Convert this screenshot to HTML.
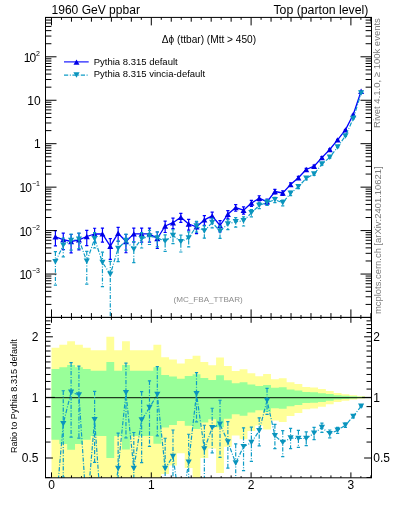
<!DOCTYPE html>
<html><head><meta charset="utf-8"><style>
html,body{margin:0;padding:0;background:#fff;width:393px;height:512px;overflow:hidden}
.t{position:absolute;-webkit-font-smoothing:antialiased;transform:translateZ(0);font-family:"Liberation Sans",sans-serif;white-space:nowrap;line-height:1;color:#000}
svg{position:absolute;left:0;top:0;will-change:transform}
</style></head><body>
<svg width="393" height="512" viewBox="0 0 393 512">
<path d="M51.50,347.67L59.34,347.67L59.34,344.72L67.18,344.72L67.18,341.25L75.01,341.25L75.01,344.72L82.85,344.72L82.85,347.67L90.69,347.67L90.69,350.37L98.53,350.37L98.53,350.37L106.37,350.37L106.37,336.79L114.21,336.79L114.21,350.37L122.04,350.37L122.04,341.36L129.88,341.36L129.88,350.37L137.72,350.37L137.72,350.37L145.56,350.37L145.56,350.37L153.40,350.37L153.40,344.87L161.24,344.87L161.24,357.22L169.07,357.22L169.07,359.56L176.91,359.56L176.91,363.55L184.75,363.55L184.75,358.89L192.59,358.89L192.59,355.84L200.43,355.84L200.43,361.97L208.27,361.97L208.27,365.35L216.10,365.35L216.10,357.49L223.94,357.49L223.94,366.04L231.78,366.04L231.78,370.99L239.62,370.99L239.62,369.19L247.46,369.19L247.46,373.22L255.30,373.22L255.30,376.14L263.13,376.14L263.13,373.95L270.97,373.95L270.97,379.13L278.81,379.13L278.81,378.18L286.65,378.18L286.65,382.14L294.49,382.14L294.49,384.10L302.32,384.10L302.32,387.06L310.16,387.06L310.16,387.59L318.00,387.59L318.00,389.05L325.84,389.05L325.84,390.96L333.68,390.96L333.68,393.12L341.52,393.12L341.52,394.26L349.35,394.26L349.35,395.36L357.19,395.36L357.19,396.30L365.03,396.30L365.03,398.51L357.19,398.51L357.19,399.49L349.35,399.49L349.35,400.65L341.52,400.65L341.52,401.90L333.68,401.90L333.68,404.35L325.84,404.35L325.84,406.63L318.00,406.63L318.00,408.46L310.16,408.46L310.16,409.13L302.32,409.13L302.32,413.09L294.49,413.09L294.49,415.89L286.65,415.89L286.65,422.07L278.81,422.07L278.81,420.53L270.97,420.53L270.97,429.55L263.13,429.55L263.13,425.56L255.30,425.56L255.30,430.94L247.46,430.94L247.46,439.30L239.62,439.30L239.62,435.41L231.78,435.41L231.78,446.78L223.94,446.78L223.94,472.95L216.10,472.95L216.10,448.54L208.27,448.54L208.27,457.96L200.43,457.96L200.43,477.80L192.59,477.80L192.59,467.88L184.75,467.88L184.75,453.37L176.91,453.37L176.91,465.60L169.07,465.60L169.07,473.95L161.24,473.95L161.24,477.80L153.40,477.80L153.40,477.80L145.56,477.80L145.56,477.80L137.72,477.80L137.72,477.80L129.88,477.80L129.88,477.80L122.04,477.80L122.04,477.80L114.21,477.80L114.21,477.80L106.37,477.80L106.37,477.80L98.53,477.80L98.53,477.80L90.69,477.80L90.69,477.80L82.85,477.80L82.85,477.80L75.01,477.80L75.01,477.80L67.18,477.80L67.18,477.80L59.34,477.80L59.34,477.80L51.50,477.80Z" fill="#ffff99"/>
<path d="M51.50,369.05L59.34,369.05L59.34,367.15L67.18,367.15L67.18,364.90L75.01,364.90L75.01,367.15L82.85,367.15L82.85,369.05L90.69,369.05L90.69,370.76L98.53,370.76L98.53,370.76L106.37,370.76L106.37,361.94L114.21,361.94L114.21,370.76L122.04,370.76L122.04,364.96L129.88,364.96L129.88,370.76L137.72,370.76L137.72,370.76L145.56,370.76L145.56,370.76L153.40,370.76L153.40,367.25L161.24,367.25L161.24,375.02L169.07,375.02L169.07,376.45L176.91,376.45L176.91,378.85L184.75,378.85L184.75,376.04L192.59,376.04L192.59,374.17L200.43,374.17L200.43,377.90L208.27,377.90L208.27,379.91L216.10,379.91L216.10,375.19L223.94,375.19L223.94,380.32L231.78,380.32L231.78,383.20L239.62,383.20L239.62,382.16L247.46,382.16L247.46,384.48L255.30,384.48L255.30,386.12L263.13,386.12L263.13,384.89L270.97,384.89L270.97,387.79L278.81,387.79L278.81,387.26L286.65,387.26L286.65,389.44L294.49,389.44L294.49,390.50L302.32,390.50L302.32,392.08L310.16,392.08L310.16,392.35L318.00,392.35L318.00,393.13L325.84,393.13L325.84,394.12L333.68,394.12L333.68,395.24L341.52,395.24L341.52,395.82L349.35,395.82L349.35,396.37L357.19,396.37L357.19,396.85L365.03,396.85L365.03,397.95L357.19,397.95L357.19,398.44L349.35,398.44L349.35,399.01L341.52,399.01L341.52,399.62L333.68,399.62L333.68,400.81L325.84,400.81L325.84,401.89L318.00,401.89L318.00,402.75L310.16,402.75L310.16,403.07L302.32,403.07L302.32,404.89L294.49,404.89L294.49,406.16L286.65,406.16L286.65,408.87L278.81,408.87L278.81,408.20L270.97,408.20L270.97,412.01L263.13,412.01L263.13,410.35L255.30,410.35L255.30,412.57L247.46,412.57L247.46,415.87L239.62,415.87L239.62,414.36L231.78,414.36L231.78,418.65L223.94,418.65L223.94,427.26L216.10,427.26L216.10,419.28L208.27,419.28L208.27,422.54L200.43,422.54L200.43,429.12L192.59,429.12L192.59,425.72L184.75,425.72L184.75,420.98L176.91,420.98L176.91,425.01L169.07,425.01L169.07,427.55L161.24,427.55L161.24,443.80L153.40,443.80L153.40,435.90L145.56,435.90L145.56,435.90L137.72,435.90L137.72,435.90L129.88,435.90L129.88,449.54L122.04,449.54L122.04,435.90L114.21,435.90L114.21,458.03L106.37,458.03L106.37,435.90L98.53,435.90L98.53,435.90L90.69,435.90L90.69,439.63L82.85,439.63L82.85,444.04L75.01,444.04L75.01,449.72L67.18,449.72L67.18,444.04L59.34,444.04L59.34,439.63L51.50,439.63Z" fill="#99ff99"/>
<line x1="45.5" y1="397.6" x2="371.5" y2="397.6" stroke="#142814" stroke-opacity="0.9" stroke-width="1.3"/>
<defs><clipPath id="cm"><rect x="45.5" y="17.4" width="326" height="300"/></clipPath><clipPath id="cr"><rect x="45.5" y="317.4" width="326" height="160.4"/></clipPath></defs>
<g clip-path="url(#cm)">
<polyline points="55.42,236.80 63.26,239.60 71.10,241.50 78.93,239.80 86.77,236.50 94.61,234.00 102.45,233.90 110.29,246.20 118.13,233.20 125.96,241.50 133.80,233.90 141.64,233.90 149.48,233.90 157.32,238.50 165.15,226.00 172.99,222.70 180.83,217.30 188.67,224.00 196.51,226.80 204.35,219.90 212.18,215.90 220.02,225.50 227.86,214.30 235.70,207.60 243.54,210.20 251.38,203.10 259.21,198.20 267.05,201.80 274.89,191.50 282.73,193.00 290.57,184.60 298.41,177.80 306.24,169.50 314.08,166.20 321.92,157.60 329.76,149.50 337.60,139.90 345.44,129.90 353.27,114.50 361.11,91.20" fill="none" stroke="#0000ff" stroke-width="1.3" stroke-linejoin="round"/>
<path d="M55.42,230.68V245.92M53.82,230.68H57.02M53.82,245.92H57.02M63.26,233.07V249.67M61.66,233.07H64.86M61.66,249.67H64.86M71.10,234.48V252.79M69.50,234.48H72.70M69.50,252.79H72.70M78.93,233.27V249.87M77.33,233.27H80.53M77.33,249.87H80.53M86.77,230.38V245.62M85.17,230.38H88.37M85.17,245.62H88.37M94.61,228.25V242.31M93.01,228.25H96.21M93.01,242.31H96.21M102.45,228.15V242.21M100.85,228.15H104.05M100.85,242.21H104.05M110.29,238.55V259.29M108.69,238.55H111.89M108.69,259.29H111.89M118.13,227.45V241.51M116.53,227.45H119.73M116.53,241.51H119.73M125.96,234.50V252.76M124.36,234.50H127.56M124.36,252.76H127.56M133.80,228.15V242.21M132.20,228.15H135.40M132.20,242.21H135.40M141.64,228.15V242.21M140.04,228.15H143.24M140.04,242.21H143.24M149.48,228.15V242.21M147.88,228.15H151.08M147.88,242.21H151.08M157.32,231.99V248.52M155.72,231.99H158.92M155.72,248.52H158.92M165.15,221.17V232.51M163.55,221.17H166.75M163.55,232.51H166.75M172.99,218.18V228.66M171.39,218.18H174.59M171.39,228.66H174.59M180.83,213.30V222.39M179.23,213.30H182.43M179.23,222.39H182.43M188.67,219.39V230.11M187.07,219.39H190.27M187.07,230.11H190.27M196.51,221.79V233.65M194.91,221.79H198.11M194.91,233.65H198.11M204.35,215.69V225.33M202.75,215.69H205.95M202.75,225.33H205.95M212.18,212.13V220.62M210.58,212.13H213.78M210.58,220.62H213.78M220.02,220.71V231.94M218.42,220.71H221.62M218.42,231.94H221.62M227.86,210.61V218.89M226.26,210.61H229.46M226.26,218.89H229.46M235.70,204.54V211.26M234.10,204.54H237.30M234.10,211.26H237.30M243.54,206.91V214.19M241.94,206.91H245.14M241.94,214.19H245.14M251.38,200.31V206.37M249.78,200.31H252.98M249.78,206.37H252.98M259.21,195.77V201.00M257.61,195.77H260.81M257.61,201.00H260.81M267.05,199.10V204.95M265.45,199.10H268.65M265.45,204.95H268.65M274.89,189.42V193.83M273.29,189.42H276.49M273.29,193.83H276.49M282.73,190.81V195.47M281.13,190.81H284.33M281.13,195.47H284.33M290.57,182.88V186.49M288.97,182.88H292.17M288.97,186.49H292.17M298.41,176.31V179.42M296.81,176.31H300.01M296.81,179.42H300.01M306.24,168.35V170.72M304.64,168.35H307.84M304.64,170.72H307.84M314.08,165.11V167.36M312.48,165.11H315.68M312.48,167.36H315.68M321.92,156.68V158.57M320.32,156.68H323.52M320.32,158.57H323.52M329.76,148.79V150.24M328.16,148.79H331.36M328.16,150.24H331.36M337.60,139.43V140.38M336.00,139.43H339.20M336.00,140.38H339.20M345.44,129.56V130.25M343.84,129.56H347.04M343.84,130.25H347.04M353.27,114.28V114.72M351.67,114.28H354.87M351.67,114.72H354.87M361.11,91.08V91.32M359.51,91.08H362.71M359.51,91.32H362.71" stroke="#0000ff" stroke-width="1.2" fill="none"/>
<path d="M52.42,239.50L58.42,239.50L55.42,234.10Z" fill="#0000e6"/>
<path d="M60.26,242.30L66.26,242.30L63.26,236.90Z" fill="#0000e6"/>
<path d="M68.10,244.20L74.10,244.20L71.10,238.80Z" fill="#0000e6"/>
<path d="M75.93,242.50L81.93,242.50L78.93,237.10Z" fill="#0000e6"/>
<path d="M83.77,239.20L89.77,239.20L86.77,233.80Z" fill="#0000e6"/>
<path d="M91.61,236.70L97.61,236.70L94.61,231.30Z" fill="#0000e6"/>
<path d="M99.45,236.60L105.45,236.60L102.45,231.20Z" fill="#0000e6"/>
<path d="M107.29,248.90L113.29,248.90L110.29,243.50Z" fill="#0000e6"/>
<path d="M115.13,235.90L121.13,235.90L118.13,230.50Z" fill="#0000e6"/>
<path d="M122.96,244.20L128.96,244.20L125.96,238.80Z" fill="#0000e6"/>
<path d="M130.80,236.60L136.80,236.60L133.80,231.20Z" fill="#0000e6"/>
<path d="M138.64,236.60L144.64,236.60L141.64,231.20Z" fill="#0000e6"/>
<path d="M146.48,236.60L152.48,236.60L149.48,231.20Z" fill="#0000e6"/>
<path d="M154.32,241.20L160.32,241.20L157.32,235.80Z" fill="#0000e6"/>
<path d="M162.15,228.70L168.15,228.70L165.15,223.30Z" fill="#0000e6"/>
<path d="M169.99,225.40L175.99,225.40L172.99,220.00Z" fill="#0000e6"/>
<path d="M177.83,220.00L183.83,220.00L180.83,214.60Z" fill="#0000e6"/>
<path d="M185.67,226.70L191.67,226.70L188.67,221.30Z" fill="#0000e6"/>
<path d="M193.51,229.50L199.51,229.50L196.51,224.10Z" fill="#0000e6"/>
<path d="M201.35,222.60L207.35,222.60L204.35,217.20Z" fill="#0000e6"/>
<path d="M209.18,218.60L215.18,218.60L212.18,213.20Z" fill="#0000e6"/>
<path d="M217.02,228.20L223.02,228.20L220.02,222.80Z" fill="#0000e6"/>
<path d="M224.86,217.00L230.86,217.00L227.86,211.60Z" fill="#0000e6"/>
<path d="M232.70,210.30L238.70,210.30L235.70,204.90Z" fill="#0000e6"/>
<path d="M240.54,212.90L246.54,212.90L243.54,207.50Z" fill="#0000e6"/>
<path d="M248.38,205.80L254.38,205.80L251.38,200.40Z" fill="#0000e6"/>
<path d="M256.21,200.90L262.21,200.90L259.21,195.50Z" fill="#0000e6"/>
<path d="M264.05,204.50L270.05,204.50L267.05,199.10Z" fill="#0000e6"/>
<path d="M271.89,194.20L277.89,194.20L274.89,188.80Z" fill="#0000e6"/>
<path d="M279.73,195.70L285.73,195.70L282.73,190.30Z" fill="#0000e6"/>
<path d="M287.57,187.30L293.57,187.30L290.57,181.90Z" fill="#0000e6"/>
<path d="M295.41,180.50L301.41,180.50L298.41,175.10Z" fill="#0000e6"/>
<path d="M303.24,172.20L309.24,172.20L306.24,166.80Z" fill="#0000e6"/>
<path d="M311.08,168.90L317.08,168.90L314.08,163.50Z" fill="#0000e6"/>
<path d="M318.92,160.30L324.92,160.30L321.92,154.90Z" fill="#0000e6"/>
<path d="M326.76,152.20L332.76,152.20L329.76,146.80Z" fill="#0000e6"/>
<path d="M334.60,142.60L340.60,142.60L337.60,137.20Z" fill="#0000e6"/>
<path d="M342.44,132.60L348.44,132.60L345.44,127.20Z" fill="#0000e6"/>
<path d="M350.27,117.20L356.27,117.20L353.27,111.80Z" fill="#0000e6"/>
<path d="M358.11,93.90L364.11,93.90L361.11,88.50Z" fill="#0000e6"/>
<polyline points="55.42,261.79 63.26,245.27 71.10,240.39 78.93,239.26 86.77,261.35 94.61,238.83 102.45,262.47 110.29,274.26 118.13,248.53 125.96,240.49 133.80,249.23 141.64,238.80 149.48,236.10 157.32,237.89 165.15,241.33 172.99,235.44 180.83,241.80 188.67,237.99 196.51,226.02 204.35,231.06 212.18,222.45 220.02,231.30 227.86,223.91 235.70,221.78 243.54,220.83 251.38,212.86 259.21,205.39 267.05,202.45 274.89,199.76 282.73,202.76 290.57,193.36 298.41,186.67 306.24,178.37 314.08,173.94 321.92,164.12 329.76,157.36 337.60,147.01 345.44,135.90 353.27,118.60 361.11,93.11" fill="none" stroke="#0e9cc6" stroke-width="1.2" stroke-dasharray="4.2 1.6 1 1.6"/>
<path d="M55.42,251.68V285.04M63.26,238.16V256.80M71.10,234.01V250.08M78.93,233.04V248.58M86.77,251.33V284.08M94.61,232.68V248.02M102.45,252.22V286.58M110.29,261.32V354.65M118.13,240.89V261.55M125.96,234.10V250.22M133.80,241.48V262.60M141.64,232.65V247.99M149.48,230.32V244.49M157.32,231.86V246.78M165.15,234.82V251.34M172.99,229.74V243.64M180.83,235.22V251.98M188.67,231.95V246.92M196.51,221.44V232.08M204.35,225.91V238.16M212.18,218.24V227.87M220.02,226.12V238.46M227.86,219.55V229.58M235.70,217.64V227.10M243.54,216.78V225.99M251.38,209.52V216.92M259.21,202.61V208.66M267.05,199.87V205.46M274.89,197.34V202.54M282.73,200.15V205.79M290.57,191.29V195.67M298.41,184.93V188.60M306.24,176.96V179.90M314.08,172.68V175.30M321.92,163.14V165.15M329.76,156.54V158.22M337.60,146.38V147.66M345.44,135.43V136.38M353.27,118.30V118.90M361.11,92.96V93.27" stroke="#0e9cc6" stroke-width="1.2" fill="none" stroke-dasharray="4.2 1.6 1 1.6"/>
<path d="M53.82,251.68H57.02M53.82,285.04H57.02M61.66,238.16H64.86M61.66,256.80H64.86M69.50,234.01H72.70M69.50,250.08H72.70M77.33,233.04H80.53M77.33,248.58H80.53M85.17,251.33H88.37M85.17,284.08H88.37M93.01,232.68H96.21M93.01,248.02H96.21M100.85,252.22H104.05M100.85,286.58H104.05M108.69,261.32H111.89M108.69,354.65H111.89M116.53,240.89H119.73M116.53,261.55H119.73M124.36,234.10H127.56M124.36,250.22H127.56M132.20,241.48H135.40M132.20,262.60H135.40M140.04,232.65H143.24M140.04,247.99H143.24M147.88,230.32H151.08M147.88,244.49H151.08M155.72,231.86H158.92M155.72,246.78H158.92M163.55,234.82H166.75M163.55,251.34H166.75M171.39,229.74H174.59M171.39,243.64H174.59M179.23,235.22H182.43M179.23,251.98H182.43M187.07,231.95H190.27M187.07,246.92H190.27M194.91,221.44H198.11M194.91,232.08H198.11M202.75,225.91H205.95M202.75,238.16H205.95M210.58,218.24H213.78M210.58,227.87H213.78M218.42,226.12H221.62M218.42,238.46H221.62M226.26,219.55H229.46M226.26,229.58H229.46M234.10,217.64H237.30M234.10,227.10H237.30M241.94,216.78H245.14M241.94,225.99H245.14M249.78,209.52H252.98M249.78,216.92H252.98M257.61,202.61H260.81M257.61,208.66H260.81M265.45,199.87H268.65M265.45,205.46H268.65M273.29,197.34H276.49M273.29,202.54H276.49M281.13,200.15H284.33M281.13,205.79H284.33M288.97,191.29H292.17M288.97,195.67H292.17M296.81,184.93H300.01M296.81,188.60H300.01M304.64,176.96H307.84M304.64,179.90H307.84M312.48,172.68H315.68M312.48,175.30H315.68M320.32,163.14H323.52M320.32,165.15H323.52M328.16,156.54H331.36M328.16,158.22H331.36M336.00,146.38H339.20M336.00,147.66H339.20M343.84,135.43H347.04M343.84,136.38H347.04M351.67,118.30H354.87M351.67,118.90H354.87M359.51,92.96H362.71M359.51,93.27H362.71" stroke="#0e9cc6" stroke-width="1.2" fill="none"/>
<path d="M52.32,259.04L58.52,259.04L55.42,264.54Z" fill="#0a94bd"/>
<path d="M60.16,242.52L66.36,242.52L63.26,248.02Z" fill="#0a94bd"/>
<path d="M68.00,237.64L74.20,237.64L71.10,243.14Z" fill="#0a94bd"/>
<path d="M75.83,236.51L82.03,236.51L78.93,242.01Z" fill="#0a94bd"/>
<path d="M83.67,258.60L89.87,258.60L86.77,264.10Z" fill="#0a94bd"/>
<path d="M91.51,236.08L97.71,236.08L94.61,241.58Z" fill="#0a94bd"/>
<path d="M99.35,259.72L105.55,259.72L102.45,265.22Z" fill="#0a94bd"/>
<path d="M107.19,271.51L113.39,271.51L110.29,277.01Z" fill="#0a94bd"/>
<path d="M115.03,245.78L121.23,245.78L118.13,251.28Z" fill="#0a94bd"/>
<path d="M122.86,237.74L129.06,237.74L125.96,243.24Z" fill="#0a94bd"/>
<path d="M130.70,246.48L136.90,246.48L133.80,251.98Z" fill="#0a94bd"/>
<path d="M138.54,236.05L144.74,236.05L141.64,241.55Z" fill="#0a94bd"/>
<path d="M146.38,233.35L152.58,233.35L149.48,238.85Z" fill="#0a94bd"/>
<path d="M154.22,235.14L160.42,235.14L157.32,240.64Z" fill="#0a94bd"/>
<path d="M162.05,238.58L168.25,238.58L165.15,244.08Z" fill="#0a94bd"/>
<path d="M169.89,232.69L176.09,232.69L172.99,238.19Z" fill="#0a94bd"/>
<path d="M177.73,239.05L183.93,239.05L180.83,244.55Z" fill="#0a94bd"/>
<path d="M185.57,235.24L191.77,235.24L188.67,240.74Z" fill="#0a94bd"/>
<path d="M193.41,223.27L199.61,223.27L196.51,228.77Z" fill="#0a94bd"/>
<path d="M201.25,228.31L207.45,228.31L204.35,233.81Z" fill="#0a94bd"/>
<path d="M209.08,219.70L215.28,219.70L212.18,225.20Z" fill="#0a94bd"/>
<path d="M216.92,228.55L223.12,228.55L220.02,234.05Z" fill="#0a94bd"/>
<path d="M224.76,221.16L230.96,221.16L227.86,226.66Z" fill="#0a94bd"/>
<path d="M232.60,219.03L238.80,219.03L235.70,224.53Z" fill="#0a94bd"/>
<path d="M240.44,218.08L246.64,218.08L243.54,223.58Z" fill="#0a94bd"/>
<path d="M248.28,210.11L254.48,210.11L251.38,215.61Z" fill="#0a94bd"/>
<path d="M256.11,202.64L262.31,202.64L259.21,208.14Z" fill="#0a94bd"/>
<path d="M263.95,199.70L270.15,199.70L267.05,205.20Z" fill="#0a94bd"/>
<path d="M271.79,197.01L277.99,197.01L274.89,202.51Z" fill="#0a94bd"/>
<path d="M279.63,200.01L285.83,200.01L282.73,205.51Z" fill="#0a94bd"/>
<path d="M287.47,190.61L293.67,190.61L290.57,196.11Z" fill="#0a94bd"/>
<path d="M295.31,183.92L301.51,183.92L298.41,189.42Z" fill="#0a94bd"/>
<path d="M303.14,175.62L309.34,175.62L306.24,181.12Z" fill="#0a94bd"/>
<path d="M310.98,171.19L317.18,171.19L314.08,176.69Z" fill="#0a94bd"/>
<path d="M318.82,161.37L325.02,161.37L321.92,166.87Z" fill="#0a94bd"/>
<path d="M326.66,154.61L332.86,154.61L329.76,160.11Z" fill="#0a94bd"/>
<path d="M334.50,144.26L340.70,144.26L337.60,149.76Z" fill="#0a94bd"/>
<path d="M342.34,133.15L348.54,133.15L345.44,138.65Z" fill="#0a94bd"/>
<path d="M350.17,115.85L356.37,115.85L353.27,121.35Z" fill="#0a94bd"/>
<path d="M358.01,90.36L364.21,90.36L361.11,95.86Z" fill="#0a94bd"/>
</g>
<g clip-path="url(#cr)">
<polyline points="55.42,513.17 63.26,423.67 71.10,392.24 78.93,394.89 86.77,512.52 94.61,419.79 102.45,529.77 110.29,527.42 118.13,468.40 125.96,392.73 133.80,468.40 141.64,420.12 149.48,407.61 157.32,394.55 165.15,468.40 172.99,456.41 180.83,510.90 188.67,462.20 196.51,393.80 204.35,449.09 212.18,427.73 220.02,424.25 227.86,441.90 235.70,463.11 243.54,446.63 251.38,442.62 259.21,430.71 267.05,400.43 274.89,435.66 282.73,442.62 290.57,437.96 298.41,438.52 306.24,438.52 314.08,433.28 321.92,427.61 329.76,433.80 337.60,430.33 345.44,425.20 353.27,416.39 361.11,406.26" fill="none" stroke="#0e9cc6" stroke-width="1.2" stroke-dasharray="4.2 1.6 1 1.6"/>
<path d="M63.26,390.75V477.09M71.10,362.71V437.16M78.93,366.10V438.09M94.61,391.28V462.36M118.13,433.04V528.73M125.96,363.13V437.81M133.80,432.50V530.38M141.64,391.63V462.66M149.48,380.81V446.45M157.32,366.65V435.78M165.15,438.25V514.81M172.99,430.02V494.40M188.67,434.23V503.58M196.51,372.59V421.87M204.35,425.23V482.01M212.18,408.24V452.85M220.02,400.26V457.43M227.86,421.72V468.18M235.70,443.93V487.73M243.54,427.87V470.53M251.38,427.14V461.45M259.21,417.82V445.85M267.05,388.44V414.34M274.89,424.44V448.53M282.73,430.54V456.65M290.57,428.40V448.70M298.41,430.44V447.42M306.24,431.97V445.59M314.08,427.44V439.54M321.92,423.07V432.39M329.76,430.00V437.78M337.60,427.42V433.34M345.44,423.02V427.43M353.27,415.01V417.80M361.11,405.56V406.97" stroke="#0e9cc6" stroke-width="1.2" fill="none" stroke-dasharray="4.2 1.6 1 1.6"/>
<path d="M61.66,390.75H64.86M61.66,477.09H64.86M69.50,362.71H72.70M69.50,437.16H72.70M77.33,366.10H80.53M77.33,438.09H80.53M93.01,391.28H96.21M93.01,462.36H96.21M116.53,433.04H119.73M116.53,528.73H119.73M124.36,363.13H127.56M124.36,437.81H127.56M132.20,432.50H135.40M132.20,530.38H135.40M140.04,391.63H143.24M140.04,462.66H143.24M147.88,380.81H151.08M147.88,446.45H151.08M155.72,366.65H158.92M155.72,435.78H158.92M163.55,438.25H166.75M163.55,514.81H166.75M171.39,430.02H174.59M171.39,494.40H174.59M187.07,434.23H190.27M187.07,503.58H190.27M194.91,372.59H198.11M194.91,421.87H198.11M202.75,425.23H205.95M202.75,482.01H205.95M210.58,408.24H213.78M210.58,452.85H213.78M218.42,400.26H221.62M218.42,457.43H221.62M226.26,421.72H229.46M226.26,468.18H229.46M234.10,443.93H237.30M234.10,487.73H237.30M241.94,427.87H245.14M241.94,470.53H245.14M249.78,427.14H252.98M249.78,461.45H252.98M257.61,417.82H260.81M257.61,445.85H260.81M265.45,388.44H268.65M265.45,414.34H268.65M273.29,424.44H276.49M273.29,448.53H276.49M281.13,430.54H284.33M281.13,456.65H284.33M288.97,428.40H292.17M288.97,448.70H292.17M296.81,430.44H300.01M296.81,447.42H300.01M304.64,431.97H307.84M304.64,445.59H307.84M312.48,427.44H315.68M312.48,439.54H315.68M320.32,423.07H323.52M320.32,432.39H323.52M328.16,430.00H331.36M328.16,437.78H331.36M336.00,427.42H339.20M336.00,433.34H339.20M343.84,423.02H347.04M343.84,427.43H347.04M351.67,415.01H354.87M351.67,417.80H354.87M359.51,405.56H362.71M359.51,406.97H362.71" stroke="#0e9cc6" stroke-width="1.2" fill="none"/>
<path d="M52.32,510.42L58.52,510.42L55.42,515.92Z" fill="#0a94bd"/>
<path d="M60.16,420.92L66.36,420.92L63.26,426.42Z" fill="#0a94bd"/>
<path d="M68.00,389.49L74.20,389.49L71.10,394.99Z" fill="#0a94bd"/>
<path d="M75.83,392.14L82.03,392.14L78.93,397.64Z" fill="#0a94bd"/>
<path d="M83.67,509.77L89.87,509.77L86.77,515.27Z" fill="#0a94bd"/>
<path d="M91.51,417.04L97.71,417.04L94.61,422.54Z" fill="#0a94bd"/>
<path d="M99.35,527.02L105.55,527.02L102.45,532.52Z" fill="#0a94bd"/>
<path d="M107.19,524.67L113.39,524.67L110.29,530.17Z" fill="#0a94bd"/>
<path d="M115.03,465.65L121.23,465.65L118.13,471.15Z" fill="#0a94bd"/>
<path d="M122.86,389.98L129.06,389.98L125.96,395.48Z" fill="#0a94bd"/>
<path d="M130.70,465.65L136.90,465.65L133.80,471.15Z" fill="#0a94bd"/>
<path d="M138.54,417.37L144.74,417.37L141.64,422.87Z" fill="#0a94bd"/>
<path d="M146.38,404.86L152.58,404.86L149.48,410.36Z" fill="#0a94bd"/>
<path d="M154.22,391.80L160.42,391.80L157.32,397.30Z" fill="#0a94bd"/>
<path d="M162.05,465.65L168.25,465.65L165.15,471.15Z" fill="#0a94bd"/>
<path d="M169.89,453.66L176.09,453.66L172.99,459.16Z" fill="#0a94bd"/>
<path d="M177.73,508.15L183.93,508.15L180.83,513.65Z" fill="#0a94bd"/>
<path d="M185.57,459.45L191.77,459.45L188.67,464.95Z" fill="#0a94bd"/>
<path d="M193.41,391.05L199.61,391.05L196.51,396.55Z" fill="#0a94bd"/>
<path d="M201.25,446.34L207.45,446.34L204.35,451.84Z" fill="#0a94bd"/>
<path d="M209.08,424.98L215.28,424.98L212.18,430.48Z" fill="#0a94bd"/>
<path d="M216.92,421.50L223.12,421.50L220.02,427.00Z" fill="#0a94bd"/>
<path d="M224.76,439.15L230.96,439.15L227.86,444.65Z" fill="#0a94bd"/>
<path d="M232.60,460.36L238.80,460.36L235.70,465.86Z" fill="#0a94bd"/>
<path d="M240.44,443.88L246.64,443.88L243.54,449.38Z" fill="#0a94bd"/>
<path d="M248.28,439.87L254.48,439.87L251.38,445.37Z" fill="#0a94bd"/>
<path d="M256.11,427.96L262.31,427.96L259.21,433.46Z" fill="#0a94bd"/>
<path d="M263.95,397.68L270.15,397.68L267.05,403.18Z" fill="#0a94bd"/>
<path d="M271.79,432.91L277.99,432.91L274.89,438.41Z" fill="#0a94bd"/>
<path d="M279.63,439.87L285.83,439.87L282.73,445.37Z" fill="#0a94bd"/>
<path d="M287.47,435.21L293.67,435.21L290.57,440.71Z" fill="#0a94bd"/>
<path d="M295.31,435.77L301.51,435.77L298.41,441.27Z" fill="#0a94bd"/>
<path d="M303.14,435.77L309.34,435.77L306.24,441.27Z" fill="#0a94bd"/>
<path d="M310.98,430.53L317.18,430.53L314.08,436.03Z" fill="#0a94bd"/>
<path d="M318.82,424.86L325.02,424.86L321.92,430.36Z" fill="#0a94bd"/>
<path d="M326.66,431.05L332.86,431.05L329.76,436.55Z" fill="#0a94bd"/>
<path d="M334.50,427.58L340.70,427.58L337.60,433.08Z" fill="#0a94bd"/>
<path d="M342.34,422.45L348.54,422.45L345.44,427.95Z" fill="#0a94bd"/>
<path d="M350.17,413.64L356.37,413.64L353.27,419.14Z" fill="#0a94bd"/>
<path d="M358.01,403.51L364.21,403.51L361.11,409.01Z" fill="#0a94bd"/>
</g>
<line x1="64" y1="61.9" x2="88.7" y2="61.9" stroke="#0000ff" stroke-width="1.1"/>
<path d="M73.50,64.80L79.50,64.80L76.50,59.40Z" fill="#0000e6"/>
<line x1="64" y1="75.2" x2="88.7" y2="75.2" stroke="#0e9cc6" stroke-width="1.2" stroke-dasharray="4.2 1.6 1 1.6"/>
<path d="M73.40,72.25L79.60,72.25L76.50,77.75Z" fill="#0a94bd"/>
<path d="M51.50,17.40L51.50,25.40M51.50,317.40L51.50,309.40M51.50,317.40L51.50,322.80M51.50,477.80L51.50,472.40M61.48,17.40L61.48,19.80M61.48,317.40L61.48,315.00M61.48,317.40L61.48,319.00M61.48,477.80L61.48,476.20M71.46,17.40L71.46,21.70M71.46,317.40L71.46,313.10M71.46,317.40L71.46,319.80M71.46,477.80L71.46,475.40M81.44,17.40L81.44,19.80M81.44,317.40L81.44,315.00M81.44,317.40L81.44,319.00M81.44,477.80L81.44,476.20M91.42,17.40L91.42,21.70M91.42,317.40L91.42,313.10M91.42,317.40L91.42,319.80M91.42,477.80L91.42,475.40M101.40,17.40L101.40,19.80M101.40,317.40L101.40,315.00M101.40,317.40L101.40,319.00M101.40,477.80L101.40,476.20M111.38,17.40L111.38,21.70M111.38,317.40L111.38,313.10M111.38,317.40L111.38,319.80M111.38,477.80L111.38,475.40M121.36,17.40L121.36,19.80M121.36,317.40L121.36,315.00M121.36,317.40L121.36,319.00M121.36,477.80L121.36,476.20M131.34,17.40L131.34,21.70M131.34,317.40L131.34,313.10M131.34,317.40L131.34,319.80M131.34,477.80L131.34,475.40M141.32,17.40L141.32,19.80M141.32,317.40L141.32,315.00M141.32,317.40L141.32,319.00M141.32,477.80L141.32,476.20M151.30,17.40L151.30,25.40M151.30,317.40L151.30,309.40M151.30,317.40L151.30,322.80M151.30,477.80L151.30,472.40M161.28,17.40L161.28,19.80M161.28,317.40L161.28,315.00M161.28,317.40L161.28,319.00M161.28,477.80L161.28,476.20M171.26,17.40L171.26,21.70M171.26,317.40L171.26,313.10M171.26,317.40L171.26,319.80M171.26,477.80L171.26,475.40M181.24,17.40L181.24,19.80M181.24,317.40L181.24,315.00M181.24,317.40L181.24,319.00M181.24,477.80L181.24,476.20M191.22,17.40L191.22,21.70M191.22,317.40L191.22,313.10M191.22,317.40L191.22,319.80M191.22,477.80L191.22,475.40M201.20,17.40L201.20,19.80M201.20,317.40L201.20,315.00M201.20,317.40L201.20,319.00M201.20,477.80L201.20,476.20M211.18,17.40L211.18,21.70M211.18,317.40L211.18,313.10M211.18,317.40L211.18,319.80M211.18,477.80L211.18,475.40M221.16,17.40L221.16,19.80M221.16,317.40L221.16,315.00M221.16,317.40L221.16,319.00M221.16,477.80L221.16,476.20M231.14,17.40L231.14,21.70M231.14,317.40L231.14,313.10M231.14,317.40L231.14,319.80M231.14,477.80L231.14,475.40M241.12,17.40L241.12,19.80M241.12,317.40L241.12,315.00M241.12,317.40L241.12,319.00M241.12,477.80L241.12,476.20M251.10,17.40L251.10,25.40M251.10,317.40L251.10,309.40M251.10,317.40L251.10,322.80M251.10,477.80L251.10,472.40M261.08,17.40L261.08,19.80M261.08,317.40L261.08,315.00M261.08,317.40L261.08,319.00M261.08,477.80L261.08,476.20M271.06,17.40L271.06,21.70M271.06,317.40L271.06,313.10M271.06,317.40L271.06,319.80M271.06,477.80L271.06,475.40M281.04,17.40L281.04,19.80M281.04,317.40L281.04,315.00M281.04,317.40L281.04,319.00M281.04,477.80L281.04,476.20M291.02,17.40L291.02,21.70M291.02,317.40L291.02,313.10M291.02,317.40L291.02,319.80M291.02,477.80L291.02,475.40M301.00,17.40L301.00,19.80M301.00,317.40L301.00,315.00M301.00,317.40L301.00,319.00M301.00,477.80L301.00,476.20M310.98,17.40L310.98,21.70M310.98,317.40L310.98,313.10M310.98,317.40L310.98,319.80M310.98,477.80L310.98,475.40M320.96,17.40L320.96,19.80M320.96,317.40L320.96,315.00M320.96,317.40L320.96,319.00M320.96,477.80L320.96,476.20M330.94,17.40L330.94,21.70M330.94,317.40L330.94,313.10M330.94,317.40L330.94,319.80M330.94,477.80L330.94,475.40M340.92,17.40L340.92,19.80M340.92,317.40L340.92,315.00M340.92,317.40L340.92,319.00M340.92,477.80L340.92,476.20M350.90,17.40L350.90,25.40M350.90,317.40L350.90,309.40M350.90,317.40L350.90,322.80M350.90,477.80L350.90,472.40M360.88,17.40L360.88,19.80M360.88,317.40L360.88,315.00M360.88,317.40L360.88,319.00M360.88,477.80L360.88,476.20M370.86,17.40L370.86,21.70M370.86,317.40L370.86,313.10M370.86,317.40L370.86,319.80M370.86,477.80L370.86,475.40M45.50,304.42L51.40,304.42M371.50,304.42L365.60,304.42M45.50,296.77L51.40,296.77M371.50,296.77L365.60,296.77M45.50,291.34L51.40,291.34M371.50,291.34L365.60,291.34M45.50,287.13L51.40,287.13M371.50,287.13L365.60,287.13M45.50,283.69L51.40,283.69M371.50,283.69L365.60,283.69M45.50,280.78L51.40,280.78M371.50,280.78L365.60,280.78M45.50,278.26L51.40,278.26M371.50,278.26L365.60,278.26M45.50,276.04L51.40,276.04M371.50,276.04L365.60,276.04M45.50,274.05L56.50,274.05M371.50,274.05L360.50,274.05M45.50,260.97L51.40,260.97M371.50,260.97L365.60,260.97M45.50,253.32L51.40,253.32M371.50,253.32L365.60,253.32M45.50,247.89L51.40,247.89M371.50,247.89L365.60,247.89M45.50,243.68L51.40,243.68M371.50,243.68L365.60,243.68M45.50,240.24L51.40,240.24M371.50,240.24L365.60,240.24M45.50,237.33L51.40,237.33M371.50,237.33L365.60,237.33M45.50,234.81L51.40,234.81M371.50,234.81L365.60,234.81M45.50,232.59L51.40,232.59M371.50,232.59L365.60,232.59M45.50,230.60L56.50,230.60M371.50,230.60L360.50,230.60M45.50,217.52L51.40,217.52M371.50,217.52L365.60,217.52M45.50,209.87L51.40,209.87M371.50,209.87L365.60,209.87M45.50,204.44L51.40,204.44M371.50,204.44L365.60,204.44M45.50,200.23L51.40,200.23M371.50,200.23L365.60,200.23M45.50,196.79L51.40,196.79M371.50,196.79L365.60,196.79M45.50,193.88L51.40,193.88M371.50,193.88L365.60,193.88M45.50,191.36L51.40,191.36M371.50,191.36L365.60,191.36M45.50,189.14L51.40,189.14M371.50,189.14L365.60,189.14M45.50,187.15L56.50,187.15M371.50,187.15L360.50,187.15M45.50,174.07L51.40,174.07M371.50,174.07L365.60,174.07M45.50,166.42L51.40,166.42M371.50,166.42L365.60,166.42M45.50,160.99L51.40,160.99M371.50,160.99L365.60,160.99M45.50,156.78L51.40,156.78M371.50,156.78L365.60,156.78M45.50,153.34L51.40,153.34M371.50,153.34L365.60,153.34M45.50,150.43L51.40,150.43M371.50,150.43L365.60,150.43M45.50,147.91L51.40,147.91M371.50,147.91L365.60,147.91M45.50,145.69L51.40,145.69M371.50,145.69L365.60,145.69M45.50,143.70L56.50,143.70M371.50,143.70L360.50,143.70M45.50,130.62L51.40,130.62M371.50,130.62L365.60,130.62M45.50,122.97L51.40,122.97M371.50,122.97L365.60,122.97M45.50,117.54L51.40,117.54M371.50,117.54L365.60,117.54M45.50,113.33L51.40,113.33M371.50,113.33L365.60,113.33M45.50,109.89L51.40,109.89M371.50,109.89L365.60,109.89M45.50,106.98L51.40,106.98M371.50,106.98L365.60,106.98M45.50,104.46L51.40,104.46M371.50,104.46L365.60,104.46M45.50,102.24L51.40,102.24M371.50,102.24L365.60,102.24M45.50,100.25L56.50,100.25M371.50,100.25L360.50,100.25M45.50,87.17L51.40,87.17M371.50,87.17L365.60,87.17M45.50,79.52L51.40,79.52M371.50,79.52L365.60,79.52M45.50,74.09L51.40,74.09M371.50,74.09L365.60,74.09M45.50,69.88L51.40,69.88M371.50,69.88L365.60,69.88M45.50,66.44L51.40,66.44M371.50,66.44L365.60,66.44M45.50,63.53L51.40,63.53M371.50,63.53L365.60,63.53M45.50,61.01L51.40,61.01M371.50,61.01L365.60,61.01M45.50,58.79L51.40,58.79M371.50,58.79L365.60,58.79M45.50,56.80L56.50,56.80M371.50,56.80L360.50,56.80M45.50,43.72L51.40,43.72M371.50,43.72L365.60,43.72M45.50,36.07L51.40,36.07M371.50,36.07L365.60,36.07M45.50,30.64L51.40,30.64M371.50,30.64L365.60,30.64M45.50,26.43L51.40,26.43M371.50,26.43L365.60,26.43M45.50,22.99L51.40,22.99M371.50,22.99L365.60,22.99M45.50,20.08L51.40,20.08M371.50,20.08L365.60,20.08M45.50,17.56L51.40,17.56M371.50,17.56L365.60,17.56M45.50,477.51L50.50,477.51M371.50,477.51L366.50,477.51M45.50,458.00L52.90,458.00M371.50,458.00L364.10,458.00M45.50,442.06L50.50,442.06M371.50,442.06L366.50,442.06M45.50,428.58L50.50,428.58M371.50,428.58L366.50,428.58M45.50,416.91L50.50,416.91M371.50,416.91L366.50,416.91M45.50,406.61L50.50,406.61M371.50,406.61L366.50,406.61M45.50,397.40L54.90,397.40M371.50,397.40L362.10,397.40M45.50,389.07L50.50,389.07M371.50,389.07L366.50,389.07M45.50,381.46L50.50,381.46M371.50,381.46L366.50,381.46M45.50,374.46L50.50,374.46M371.50,374.46L366.50,374.46M45.50,367.98L50.50,367.98M371.50,367.98L366.50,367.98M45.50,361.95L50.50,361.95M371.50,361.95L366.50,361.95M45.50,356.31L50.50,356.31M371.50,356.31L366.50,356.31M45.50,351.01L50.50,351.01M371.50,351.01L366.50,351.01M45.50,346.01L50.50,346.01M371.50,346.01L366.50,346.01M45.50,341.29L50.50,341.29M371.50,341.29L366.50,341.29M45.50,336.80L52.90,336.80M371.50,336.80L364.10,336.80M45.50,332.54L50.50,332.54M371.50,332.54L366.50,332.54M45.50,328.47L50.50,328.47M371.50,328.47L366.50,328.47M45.50,324.58L50.50,324.58M371.50,324.58L366.50,324.58M45.50,320.86L50.50,320.86M371.50,320.86L366.50,320.86" stroke="#000" stroke-width="1" fill="none"/>
<rect x="45.5" y="17.4" width="326.0" height="300.0" fill="none" stroke="#000" stroke-width="1"/>
<rect x="45.5" y="317.4" width="326.0" height="160.40000000000003" fill="none" stroke="#000" stroke-width="1"/>
<g font-family="Liberation Sans, sans-serif">
<text x="51.5" y="13.8" font-size="12.05" text-anchor="start" fill="#000" >1960 GeV ppbar</text>
<text x="273.4" y="13.7" font-size="12.3" text-anchor="start" fill="#000" >Top (parton level)</text>
<text x="161.8" y="43.4" font-size="10.15" text-anchor="start" fill="#000" >&#916;&#981; (ttbar) (Mtt &gt; 450)</text>
<text x="93.7" y="64.7" font-size="9.5" text-anchor="start" fill="#000" >Pythia 8.315 default</text>
<text x="93.7" y="77.3" font-size="9.5" text-anchor="start" fill="#000" >Pythia 8.315 vincia-default</text>
<text x="173.5" y="302.3" font-size="8.1" text-anchor="start" fill="#8c8c8c" >(MC_FBA_TTBAR)</text>
<text x="380.2" y="127.9" font-size="9.5" text-anchor="start" fill="#7a7a7a" transform="rotate(-90 380.2 127.9)" >Rivet 4.1.0, &#8805; 100k events</text>
<text x="381.0" y="314.1" font-size="9.43" text-anchor="start" fill="#7a7a7a" transform="rotate(-90 381.0 314.1)" >mcplots.cern.ch [arXiv:2401.10621]</text>
<text x="16.9" y="453.0" font-size="9.05" text-anchor="start" fill="#000" transform="rotate(-90 16.9 453.0)" >Ratio to Pythia 8.315 default</text>
<text x="51.5" y="489.0" font-size="12" text-anchor="middle" fill="#000" >0</text>
<text x="151.3" y="489.0" font-size="12" text-anchor="middle" fill="#000" >1</text>
<text x="251.1" y="489.0" font-size="12" text-anchor="middle" fill="#000" >2</text>
<text x="350.9" y="489.0" font-size="12" text-anchor="middle" fill="#000" >3</text>
<text x="40.0" y="61.70" font-size="12" text-anchor="end"><tspan letter-spacing="-0.9">10</tspan><tspan font-size="7.0" dx="0.9" dy="-5.6">2</tspan></text>
<text x="40.6" y="104.84999999999998" font-size="12" text-anchor="end" fill="#000" >10</text>
<text x="40.6" y="148.29999999999998" font-size="12" text-anchor="end" fill="#000" >1</text>
<text x="40.0" y="192.05" font-size="12" text-anchor="end"><tspan letter-spacing="-0.9">10</tspan><tspan font-size="7.0" dx="0.9" dy="-5.6">&#8722;1</tspan></text>
<text x="40.0" y="235.50" font-size="12" text-anchor="end"><tspan letter-spacing="-0.9">10</tspan><tspan font-size="7.0" dx="0.9" dy="-5.6">&#8722;2</tspan></text>
<text x="40.0" y="278.95" font-size="12" text-anchor="end"><tspan letter-spacing="-0.9">10</tspan><tspan font-size="7.0" dx="0.9" dy="-5.6">&#8722;3</tspan></text>
<text x="38.5" y="341.2026618728405" font-size="12" text-anchor="end" fill="#000" >2</text>
<text x="373.3" y="341.2026618728405" font-size="12" text-anchor="start" fill="#000" >2</text>
<text x="38.5" y="401.79999999999995" font-size="12" text-anchor="end" fill="#000" >1</text>
<text x="373.3" y="401.79999999999995" font-size="12" text-anchor="start" fill="#000" >1</text>
<text x="38.5" y="462.3973381271594" font-size="12" text-anchor="end" fill="#000" >0.5</text>
<text x="373.3" y="462.3973381271594" font-size="12" text-anchor="start" fill="#000" >0.5</text>
</g>
</svg>
</body></html>
